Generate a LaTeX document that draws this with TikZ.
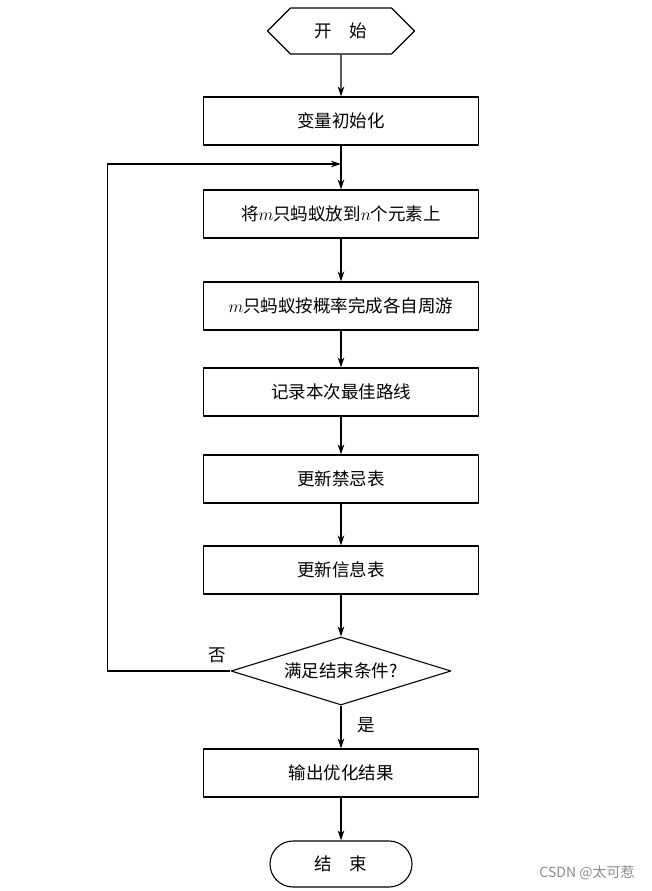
\documentclass[tikz,border=0pt]{standalone}
\usepackage{fontspec}
\setmainfont{Noto Sans CJK SC}
\usepackage{tikz}
\usetikzlibrary{arrows.meta, shapes.geometric, shapes.misc, shapes.symbols, calc, positioning}

\begin{document}
\begin{tikzpicture}[x=1pt, y=-1pt, line join=round, line width=1.1pt,
	every node/.style={font=\fontsize{17.5}{20}\selectfont, inner sep=0pt},
	procbox/.style={draw, minimum width=275pt, minimum height=48pt},
	startbox/.style={draw, signal, signal to=west and east, minimum width=147pt, minimum height=46pt},
	endbox/.style={draw, rounded rectangle, minimum width=142pt, minimum height=46pt},
	testbox/.style={draw, diamond, aspect=3.2, minimum width=220pt, minimum height=68pt},
	flow/.style={-{Stealth[length=10pt, width=6.5pt]}}]
	\useasboundingbox (0,0) rectangle (652,891);
	
	% centre line of the chart
	\def\cx{341}
	
	\node[startbox] (start) at (\cx,31) {开\quad 始};
	\node[procbox] (init) at (\cx,121) {变量初始化};
	\node[procbox] (place) at (\cx,214) {将$m$只蚂蚁放到$n$个元素上};
	\node[procbox] (tour) at (\cx,306) {$m$只蚂蚁按概率完成各自周游};
	\node[procbox] (best) at (\cx,392) {记录本次最佳路线};
	\node[procbox] (tabu) at (\cx,479) {更新禁忌表};
	\node[procbox] (phero) at (\cx,570) {更新信息表};
	\node[testbox] (check) at (\cx,671) {满足结束条件?};
	\node[procbox] (output) at (\cx,773) {输出优化结果};
	\node[endbox] (stop) at (\cx,864) {结\quad 束};
	
	\draw[flow] (start) -- (init);
	\draw[flow] (init) -- (place);
	\draw[flow] (place) -- (tour);
	\draw[flow] (tour) -- (best);
	\draw[flow] (best) -- (tabu);
	\draw[flow] (tabu) -- (phero);
	\draw[flow] (phero) -- (check);
	\draw[flow] (check) -- (output);
	\draw[flow] (output) -- (stop);
	
	% --- loop back when not finished ---
	\coordinate (merge) at ($(init.south)!0.42!(place.north)$);
	\draw[flow] (check.west) -- ++(-123,0) |- (merge);
	
	\node (no) at (217,655) {否};
	\node (yes) at (366,725) {是};
	
	\node[text=black!45, font=\fontsize{14}{16}\selectfont] (mark) at (587,873) {CSDN @太可惹};
\end{tikzpicture}
\end{document}
